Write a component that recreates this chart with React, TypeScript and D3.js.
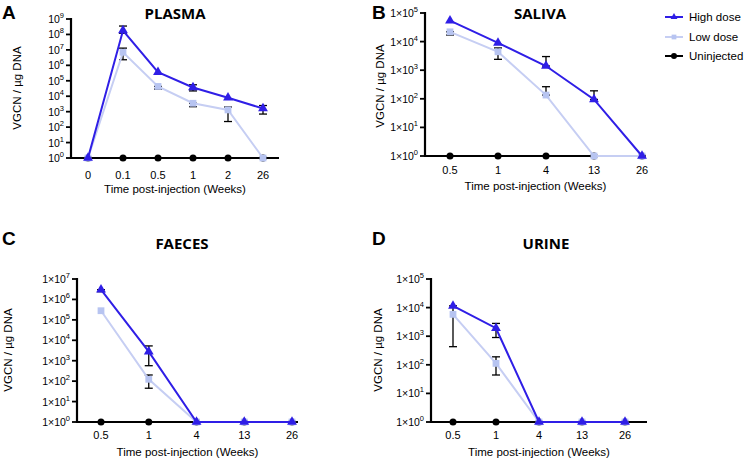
import React from "react";
import * as d3 from "d3";

// ---------- data ----------
const plasmaCats = ["0", "0.1", "0.5", "1", "2", "26"];
const plasmaHigh = [1, 1.8e8, 3.6e5, 3.7e4, 8e3, 1.6e3];
const plasmaHighErr: ([number, number] | null)[] = [null, [1.2e8, 3.5e8], null, [2.2e4, 5.5e4], null, [7e2, 2.5e3]];
const plasmaLow = [1, 7e6, 4.3e4, 3.5e3, 1.3e3, 1];
const plasmaLowErr: ([number, number] | null)[] = [null, [2.3e6, 1.3e7], [2.9e4, 4.3e4], [2.1e3, 3.5e3], [2.3e2, 2e3], null];
const plasmaUninj = [1, 1, 1, 1, 1, 1];
const plasmaTicks = [0, 1, 2, 3, 4, 5, 6, 7, 8, 9];

const salivaCats = ["0.5", "1", "4", "13", "26"];
const salivaHigh = [5.4e4, 9e3, 1.4e3, 95, 1];
const salivaHighErr: ([number, number] | null)[] = [null, null, [1.4e3, 3e3], [95, 190], null];
const salivaLow = [2.2e4, 4.4e3, 135, 1, 1];
const salivaLowErr: ([number, number] | null)[] = [[1.7e4, 2.2e4], [2.4e3, 6e3], [135, 265], null, null];
const salivaUninj = [1, 1, 1, 1, 1];
const salivaTicks = [0, 1, 2, 3, 4, 5];

const faecesCats = ["0.5", "1", "4", "13", "26"];
const faecesHigh = [3e6, 2.8e3, 1, 1, 1];
const faecesHighErr: ([number, number] | null)[] = [[2.4e6, 3e6], [5.7e2, 5.3e3], null, null, null];
const faecesLow = [2.8e5, 123, 1, 1, 1];
const faecesLowErr: ([number, number] | null)[] = [null, [45, 200], null, null, null];
const faecesUninj = [1, 1, 1, 1, 1];
const faecesTicks = [0, 1, 2, 3, 4, 5, 6, 7];

const urineCats = ["0.5", "1", "4", "13", "26"];
const urineHigh = [1.15e4, 1.9e3, 1, 1, 1];
const urineHighErr: ([number, number] | null)[] = [null, [900, 2.8e3], null, null, null];
const urineLow = [5.8e3, 112, 1, 1, 1];
const urineLowErr: ([number, number] | null)[] = [[430, 1.15e4], [44, 190], null, null, null];
const urineUninj = [1, 1, 1, 1, 1];
const urineTicks = [0, 1, 2, 3, 4, 5];

const seriesNames = ["High dose", "Low dose", "Uninjected"];
const panelLetters = ["A", "B", "C", "D"];
const panelTitles = ["PLASMA", "SALIVA", "FAECES", "URINE"];
const xTitle = "Time post-injection (Weeks)";
const yTitle = "VGCN / µg DNA";

// ---------- styles ----------
const HIGH = "#2f1ee6";
const LOW = "#c6cef3";
const LOW_MK = "#b7c4f1";
const UNINJ = "#000000";
const FONT = "'Liberation Sans', Arial, sans-serif";
const TFONT = "'Open Sans', 'Liberation Sans', sans-serif";

type Err = [number, number] | null;
interface PanelCfg {
  letter: string;
  title: string;
  cats: string[];
  high: number[];
  highErr: Err[];
  low: number[];
  lowErr: Err[];
  uninj: number[];
  ticks: number[];
  tickStyle: "plain" | "times";
  ax: number;
  yTop: number;
  yBot: number;
  x0: number;
  x1: number;
  axEnd: number;
  letterPos: [number, number];
  titlePos: [number, number];
  yLabelPos: [number, number];
  tickLabelY: number;
  xTitleY: number;
}

const panels: PanelCfg[] = [
  {
    letter: panelLetters[0], title: panelTitles[0], cats: plasmaCats,
    high: plasmaHigh, highErr: plasmaHighErr, low: plasmaLow, lowErr: plasmaLowErr, uninj: plasmaUninj,
    ticks: plasmaTicks, tickStyle: "plain",
    ax: 71, yTop: 19, yBot: 158, x0: 88, x1: 263, axEnd: 279,
    letterPos: [2, 19], titlePos: [175, 19], yLabelPos: [21, 88], tickLabelY: 179, xTitleY: 193,
  },
  {
    letter: panelLetters[1], title: panelTitles[1], cats: salivaCats,
    high: salivaHigh, highErr: salivaHighErr, low: salivaLow, lowErr: salivaLowErr, uninj: salivaUninj,
    ticks: salivaTicks, tickStyle: "times",
    ax: 425, yTop: 13, yBot: 156, x0: 450, x1: 642, axEnd: 646,
    letterPos: [372, 19], titlePos: [540, 19], yLabelPos: [384, 86], tickLabelY: 174, xTitleY: 190,
  },
  {
    letter: panelLetters[2], title: panelTitles[2], cats: faecesCats,
    high: faecesHigh, highErr: faecesHighErr, low: faecesLow, lowErr: faecesLowErr, uninj: faecesUninj,
    ticks: faecesTicks, tickStyle: "times",
    ax: 77, yTop: 279, yBot: 422, x0: 101, x1: 292, axEnd: 298,
    letterPos: [2, 245], titlePos: [182, 249], yLabelPos: [12, 350], tickLabelY: 439, xTitleY: 456,
  },
  {
    letter: panelLetters[3], title: panelTitles[3], cats: urineCats,
    high: urineHigh, highErr: urineHighErr, low: urineLow, lowErr: urineLowErr, uninj: urineUninj,
    ticks: urineTicks, tickStyle: "times",
    ax: 431, yTop: 279, yBot: 422, x0: 453, x1: 625, axEnd: 647,
    letterPos: [372, 245], titlePos: [546, 249], yLabelPos: [382, 350], tickLabelY: 439, xTitleY: 456,
  },
];

const triPath = d3.symbol(d3.symbolTriangle, 42)()!;
const sqPath = d3.symbol(d3.symbolSquare, 46)()!;

function Panel({ p }: { p: PanelCfg }) {
  const maxExp = p.ticks[p.ticks.length - 1];
  const y = d3.scaleLog().domain([1, Math.pow(10, maxExp)]).range([p.yBot, p.yTop]);
  const x = d3.scalePoint<string>().domain(p.cats).range([p.x0, p.x1]);
  const line = d3
    .line<number>()
    .x((_, i) => x(p.cats[i])!)
    .y((d) => y(d));

  const errBars = (errs: Err[], key: string) =>
    errs.map((e, i) =>
      e ? (
        <g key={key + i} stroke="#000" strokeWidth={1.3}>
          <line x1={x(p.cats[i])} x2={x(p.cats[i])} y1={y(e[0])} y2={y(e[1])} />
          <line x1={x(p.cats[i])! - 4} x2={x(p.cats[i])! + 4} y1={y(e[0])} y2={y(e[0])} />
          <line x1={x(p.cats[i])! - 4} x2={x(p.cats[i])! + 4} y1={y(e[1])} y2={y(e[1])} />
        </g>
      ) : null
    );

  return (
    <g>
      <text x={p.letterPos[0]} y={p.letterPos[1]} fontFamily={FONT} fontWeight="bold" fontSize={19}>
        {p.letter}
      </text>
      <text x={p.titlePos[0]} y={p.titlePos[1]} textAnchor="middle" fontFamily={TFONT} fontWeight="bold" fontSize={15}>
        {p.title}
      </text>
      {p.ticks.map((t) => (
        <g key={t}>
          <line x1={p.ax - 5} x2={p.ax} y1={y(Math.pow(10, t))} y2={y(Math.pow(10, t))} stroke="#000" strokeWidth={1.8} />
          <text x={p.ax - 7} y={y(Math.pow(10, t)) + 4} textAnchor="end" fontFamily={FONT} fontSize={10.5}>
            {p.tickStyle === "plain" ? "10" : "1×10"}
            <tspan dy={-5} fontSize={7.5}>{String(t)}</tspan>
          </text>
        </g>
      ))}
      <line x1={p.ax} x2={p.ax} y1={p.yTop - 1} y2={p.yBot + 1} stroke="#000" strokeWidth={2.2} />
      <line x1={p.ax - 1} x2={p.axEnd} y1={p.yBot} y2={p.yBot} stroke="#000" strokeWidth={2.2} />
      {p.cats.map((c) => (
        <text key={c} x={x(c)} y={p.tickLabelY} textAnchor="middle" fontFamily={FONT} fontSize={11}>
          {c}
        </text>
      ))}
      <text x={(p.ax + p.axEnd) / 2} y={p.xTitleY} textAnchor="middle" fontFamily={FONT} fontSize={11.5}>
        {xTitle}
      </text>
      <text
        transform={`translate(${p.yLabelPos[0]},${p.yLabelPos[1]}) rotate(-90)`}
        textAnchor="middle"
        fontFamily={FONT}
        fontSize={11.5}
      >
        {yTitle}
      </text>
      <path d={line(p.uninj)!} fill="none" stroke={UNINJ} strokeWidth={2.2} />
      {p.uninj.map((v, i) => (
        <circle key={"u" + i} cx={x(p.cats[i])} cy={y(v)} r={3.5} fill={UNINJ} />
      ))}
      {errBars(p.lowErr, "le")}
      <path d={line(p.low)!} fill="none" stroke={LOW} strokeWidth={2} />
      {p.low.map((v, i) => (
        <path key={"l" + i} d={sqPath} transform={`translate(${x(p.cats[i])},${y(v)})`} fill={LOW_MK} />
      ))}
      {errBars(p.highErr, "he")}
      <path d={line(p.high)!} fill="none" stroke={HIGH} strokeWidth={2} />
      {p.high.map((v, i) => (
        <path key={"h" + i} d={triPath} transform={`translate(${x(p.cats[i])},${y(v)})`} fill={HIGH} />
      ))}
    </g>
  );
}

function Legend() {
  const colors = [HIGH, LOW, UNINJ];
  const marks = [triPath, sqPath, null];
  const ys = [17, 37, 56];
  return (
    <g>
      {seriesNames.map((n, i) => (
        <g key={n}>
          <line x1={665} x2={683} y1={ys[i]} y2={ys[i]} stroke={colors[i]} strokeWidth={2} />
          {marks[i] ? (
            <path d={marks[i]!} transform={`translate(674,${ys[i]}) scale(0.7)`} fill={i === 1 ? LOW_MK : colors[i]} />
          ) : (
            <circle cx={674} cy={ys[i]} r={3} fill={UNINJ} />
          )}
          <text x={689} y={ys[i] + 4} fontFamily={FONT} fontSize={11.5}>
            {n}
          </text>
        </g>
      ))}
    </g>
  );
}

export default function App() {
  return (
    <svg width={747} height={460} style={{ position: "absolute", left: 0, top: 0, background: "#fff" }}>
      <rect width={747} height={460} fill="#fff" />
      {panels.map((p) => (
        <Panel key={p.letter} p={p} />
      ))}
      <Legend />
    </svg>
  );
}
